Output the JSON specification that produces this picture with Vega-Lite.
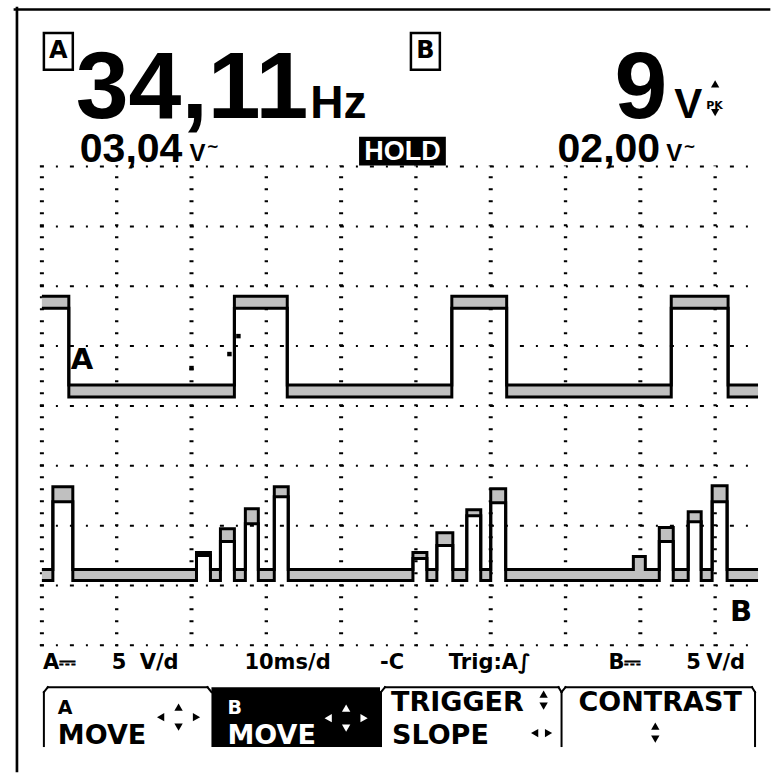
{
  "$schema": "https://vega.github.io/schema/vega-lite/v6.json",
  "width": 771,
  "height": 773,
  "autosize": {"type": "fit", "contains": "padding"},
  "padding": 0,
  "background": "white",
  "config": {"view": {"stroke": null}},
  "datasets": {
    "hgrid": [
      {"v": 0, "t": -0.267, "t2": 95.73}, {"v": 1, "t": -0.267, "t2": 95.73}, {"v": 2, "t": -0.267, "t2": 95.73},
      {"v": 3, "t": -0.267, "t2": 95.73}, {"v": 4, "t": -0.267, "t2": 95.73}, {"v": 5, "t": -0.267, "t2": 95.73},
      {"v": 6, "t": -0.267, "t2": 95.73}, {"v": 7, "t": -0.267, "t2": 95.73}, {"v": 8, "t": -0.267, "t2": 95.73}
    ],
    "vgrid": [
      {"t": 0, "kind": "wide", "v": -0.017, "v2": 8.017}, {"t": 10, "kind": "narrow", "v": -0.017, "v2": 8.017},
      {"t": 20, "kind": "wide", "v": -0.017, "v2": 8.017}, {"t": 30, "kind": "narrow", "v": -0.017, "v2": 8.017},
      {"t": 40, "kind": "wide", "v": -0.017, "v2": 8.017}, {"t": 50, "kind": "narrow", "v": -0.017, "v2": 8.017},
      {"t": 60, "kind": "wide", "v": -0.017, "v2": 8.017}, {"t": 70, "kind": "narrow", "v": -0.017, "v2": 8.017},
      {"t": 80, "kind": "wide", "v": -0.017, "v2": 8.017}, {"t": 90, "kind": "narrow", "v": -0.017, "v2": 8.017}
    ],
    "trA": [
      {"t": 0, "up": 5.833, "lo": 5.633},
      {"t": 3.6, "up": 4.35, "lo": 4.15},
      {"t": 25.733, "up": 5.833, "lo": 5.633},
      {"t": 32.8, "up": 4.35, "lo": 4.15},
      {"t": 54.8, "up": 5.833, "lo": 5.633},
      {"t": 62.133, "up": 4.35, "lo": 4.15},
      {"t": 84.133, "up": 5.833, "lo": 5.633},
      {"t": 91.733, "up": 4.35, "lo": 4.15},
      {"t": 95.733, "up": 4.35, "lo": 4.15}
    ],
    "trB": [
      {"t": 0, "up": 1.267, "lo": 1.083},
      {"t": 1.467, "up": 2.65, "lo": 2.4},
      {"t": 4.133, "up": 1.267, "lo": 1.083},
      {"t": 20.667, "up": 1.55, "lo": 1.5},
      {"t": 22.533, "up": 1.267, "lo": 1.083},
      {"t": 23.867, "up": 1.95, "lo": 1.733},
      {"t": 25.733, "up": 1.267, "lo": 1.083},
      {"t": 27.2, "up": 2.283, "lo": 2.033},
      {"t": 28.933, "up": 1.267, "lo": 1.083},
      {"t": 31.067, "up": 2.65, "lo": 2.483},
      {"t": 32.933, "up": 1.267, "lo": 1.083},
      {"t": 49.6, "up": 1.55, "lo": 1.45},
      {"t": 51.467, "up": 1.267, "lo": 1.083},
      {"t": 52.8, "up": 1.883, "lo": 1.667},
      {"t": 54.933, "up": 1.267, "lo": 1.083},
      {"t": 56.8, "up": 2.267, "lo": 2.167},
      {"t": 58.667, "up": 1.267, "lo": 1.083},
      {"t": 60.0, "up": 2.617, "lo": 2.383},
      {"t": 62.0, "up": 1.267, "lo": 1.083},
      {"t": 79.067, "up": 1.483, "lo": 1.083},
      {"t": 80.667, "up": 1.267, "lo": 1.083},
      {"t": 82.533, "up": 1.967, "lo": 1.733},
      {"t": 84.4, "up": 1.267, "lo": 1.083},
      {"t": 86.4, "up": 2.233, "lo": 2.067},
      {"t": 88.133, "up": 1.267, "lo": 1.083},
      {"t": 89.6, "up": 2.667, "lo": 2.4},
      {"t": 91.6, "up": 1.267, "lo": 1.083},
      {"t": 95.733, "up": 1.267, "lo": 1.083}
    ],
    "dots": [
      {"t": 26.27, "v": 5.167}, {"t": 25.07, "v": 4.867}, {"t": 20.0, "v": 4.633}
    ],
    "lines": [
      {"kind": "frame", "t": -3.6, "t2": 97.2, "v": 10.625, "v2": 10.625},
      {"kind": "frame", "t": -3.333, "t2": -3.333, "v": 10.65, "v2": -2.1},
      {"kind": "tab", "t": 0.267, "t2": 0.267, "v": -0.783, "v2": -1.683},
      {"kind": "tab", "t": 0.267, "t2": 0.8, "v": -0.783, "v2": -0.7},
      {"kind": "tab", "t": 0.8, "t2": 22.133, "v": -0.7, "v2": -0.7},
      {"kind": "tab", "t": 22.133, "t2": 22.667, "v": -0.7, "v2": -0.783},
      {"kind": "tab", "t": 45.333, "t2": 45.333, "v": -0.783, "v2": -1.683},
      {"kind": "tab", "t": 45.333, "t2": 45.867, "v": -0.783, "v2": -0.7},
      {"kind": "tab", "t": 45.867, "t2": 69.067, "v": -0.7, "v2": -0.7},
      {"kind": "tab", "t": 69.067, "t2": 69.467, "v": -0.7, "v2": -0.783},
      {"kind": "tab", "t": 69.467, "t2": 69.467, "v": -0.783, "v2": -1.683},
      {"kind": "tab", "t": 69.467, "t2": 70.0, "v": -0.783, "v2": -0.7},
      {"kind": "tab", "t": 70.0, "t2": 94.933, "v": -0.7, "v2": -0.7},
      {"kind": "tab", "t": 94.933, "t2": 95.333, "v": -0.7, "v2": -0.783},
      {"kind": "tab", "t": 95.333, "t2": 95.333, "v": -0.783, "v2": -1.683}
    ],
    "boxes": [
      {"kind": "solid", "t": 42.4, "t2": 54.0, "v": 8.5, "v2": 8.017},
      {"kind": "solid", "t": 22.667, "t2": 45.2, "v": -0.7, "v2": -1.7},
      {"kind": "outline", "t": 0.267, "t2": 4.133, "v": 10.233, "v2": 9.617},
      {"kind": "outline", "t": 49.333, "t2": 53.2, "v": 10.233, "v2": 9.617}
    ],
    "texts": [
      {"role": "big", "t": 4.53, "v": 8.817, "text": "34,11"},
      {"role": "bigR", "t": 83.6, "v": 8.817, "text": "9"},
      {"role": "unit", "t": 35.87, "v": 8.817, "text": "Hz"},
      {"role": "unitB", "t": 84.53, "v": 8.817, "text": "V"},
      {"role": "mid", "t": 5.067, "v": 8.083, "text": "03,04"},
      {"role": "mid", "t": 68.93, "v": 8.083, "text": "02,00"},
      {"role": "vs", "t": 19.73, "v": 8.1, "text": "V"},
      {"role": "vs", "t": 83.47, "v": 8.1, "text": "V"},
      {"role": "tilde", "t": 22.0, "v": 8.25, "text": "~"},
      {"role": "tilde", "t": 85.73, "v": 8.25, "text": "~"},
      {"role": "pk", "t": 88.8, "v": 8.967, "text": "PK"},
      {"role": "boxl", "t": 2.2, "v": 9.925, "text": "A"},
      {"role": "boxl", "t": 51.27, "v": 9.925, "text": "B"},
      {"role": "hold", "t": 48.2, "v": 8.25, "text": "HOLD"},
      {"role": "trace", "t": 3.87, "v": 4.617, "text": "A"},
      {"role": "trace", "t": 92.0, "v": 0.4, "text": "B"},
      {"role": "foot", "t": 0.133, "v": -0.4, "text": "A⎓"},
      {"role": "foot", "t": 9.33, "v": -0.4, "text": "5"},
      {"role": "foot", "t": 13.07, "v": -0.4, "text": "V/d"},
      {"role": "foot", "t": 27.07, "v": -0.4, "text": "10ms/d"},
      {"role": "foot", "t": 45.2, "v": -0.4, "text": "-C"},
      {"role": "foot", "t": 54.4, "v": -0.4, "text": "Trig:A∫"},
      {"role": "foot", "t": 75.73, "v": -0.4, "text": "B⎓"},
      {"role": "foot", "t": 86.13, "v": -0.4, "text": "5"},
      {"role": "foot", "t": 88.8, "v": -0.4, "text": "V/d"},
      {"role": "tabs", "t": 2.133, "v": -1.15, "text": "A"},
      {"role": "tab", "t": 2.133, "v": -1.65, "text": "MOVE"},
      {"role": "tabsW", "t": 24.8, "v": -1.15, "text": "B"},
      {"role": "tabW", "t": 24.8, "v": -1.65, "text": "MOVE"},
      {"role": "tab", "t": 46.67, "v": -1.1, "text": "TRIGGER"},
      {"role": "tab", "t": 46.8, "v": -1.65, "text": "SLOPE"},
      {"role": "tab", "t": 71.73, "v": -1.1, "text": "CONTRAST"}
    ],
    "icons": [
      {"t": 15.87, "v": -1.2, "dir": "left", "tone": "dark"},
      {"t": 20.67, "v": -1.2, "dir": "right", "tone": "dark"},
      {"t": 18.27, "v": -1.033, "dir": "up", "tone": "dark"},
      {"t": 18.27, "v": -1.367, "dir": "down", "tone": "dark"},
      {"t": 38.27, "v": -1.217, "dir": "left", "tone": "light"},
      {"t": 43.07, "v": -1.217, "dir": "right", "tone": "light"},
      {"t": 40.67, "v": -1.05, "dir": "up", "tone": "light"},
      {"t": 40.67, "v": -1.383, "dir": "down", "tone": "light"},
      {"t": 67.07, "v": -0.817, "dir": "up", "tone": "dark"},
      {"t": 67.07, "v": -1.017, "dir": "down", "tone": "dark"},
      {"t": 65.87, "v": -1.467, "dir": "left", "tone": "dark"},
      {"t": 67.73, "v": -1.467, "dir": "right", "tone": "dark"},
      {"t": 82.0, "v": -1.35, "dir": "up", "tone": "dark"},
      {"t": 82.0, "v": -1.567, "dir": "down", "tone": "dark"},
      {"t": 90.0, "v": 9.383, "dir": "up", "tone": "dark"},
      {"t": 90.0, "v": 8.9, "dir": "down", "tone": "dark"}
    ]
  },
  "layer": [
    {
      "data": {"name": "hgrid"},
      "mark": {"type": "rule", "color": "black", "strokeWidth": 2, "strokeDash": [4, 12, 2, 12]},
      "encoding": {
        "x": {"field": "t", "type": "quantitative", "scale": {"domain": [-5.6, 97.2], "nice": false, "zero": false}, "axis": null},
        "x2": {"field": "t2"},
        "y": {"field": "v", "type": "quantitative", "scale": {"domain": [-2.1, 10.7833], "nice": false, "zero": false}, "axis": null}
      }
    },
    {
      "data": {"name": "vgrid"},
      "mark": {"type": "rule", "color": "black", "strokeDash": [2, 10]},
      "encoding": {
        "x": {"field": "t", "type": "quantitative", "scale": {"domain": [-5.6, 97.2], "nice": false, "zero": false}, "axis": null},
        "y": {"field": "v", "type": "quantitative", "scale": {"domain": [-2.1, 10.7833], "nice": false, "zero": false}, "axis": null},
        "y2": {"field": "v2"},
        "strokeWidth": {"field": "kind", "type": "nominal", "scale": {"domain": ["wide", "narrow"], "range": [4, 2]}, "legend": null}
      }
    },
    {
      "data": {"name": "trA"},
      "mark": {"type": "area", "interpolate": "step-after", "color": "#c0c0c0"},
      "encoding": {
        "x": {"field": "t", "type": "quantitative", "scale": {"domain": [-5.6, 97.2], "nice": false, "zero": false}, "axis": null},
        "y": {"field": "up", "type": "quantitative", "scale": {"domain": [-2.1, 10.7833], "nice": false, "zero": false}, "axis": null},
        "y2": {"field": "lo"}
      }
    },
    {
      "data": {"name": "trA"},
      "mark": {"type": "line", "interpolate": "step-after", "color": "black", "strokeWidth": 3},
      "encoding": {
        "x": {"field": "t", "type": "quantitative", "scale": {"domain": [-5.6, 97.2], "nice": false, "zero": false}, "axis": null},
        "y": {"field": "up", "type": "quantitative", "scale": {"domain": [-2.1, 10.7833], "nice": false, "zero": false}, "axis": null}
      }
    },
    {
      "data": {"name": "trA"},
      "mark": {"type": "line", "interpolate": "step-after", "color": "black", "strokeWidth": 3},
      "encoding": {
        "x": {"field": "t", "type": "quantitative", "scale": {"domain": [-5.6, 97.2], "nice": false, "zero": false}, "axis": null},
        "y": {"field": "lo", "type": "quantitative", "scale": {"domain": [-2.1, 10.7833], "nice": false, "zero": false}, "axis": null}
      }
    },
    {
      "data": {"name": "trB"},
      "mark": {"type": "area", "interpolate": "step-after", "color": "#c0c0c0"},
      "encoding": {
        "x": {"field": "t", "type": "quantitative", "scale": {"domain": [-5.6, 97.2], "nice": false, "zero": false}, "axis": null},
        "y": {"field": "up", "type": "quantitative", "scale": {"domain": [-2.1, 10.7833], "nice": false, "zero": false}, "axis": null},
        "y2": {"field": "lo"}
      }
    },
    {
      "data": {"name": "trB"},
      "mark": {"type": "line", "interpolate": "step-after", "color": "black", "strokeWidth": 3},
      "encoding": {
        "x": {"field": "t", "type": "quantitative", "scale": {"domain": [-5.6, 97.2], "nice": false, "zero": false}, "axis": null},
        "y": {"field": "up", "type": "quantitative", "scale": {"domain": [-2.1, 10.7833], "nice": false, "zero": false}, "axis": null}
      }
    },
    {
      "data": {"name": "trB"},
      "mark": {"type": "line", "interpolate": "step-after", "color": "black", "strokeWidth": 3},
      "encoding": {
        "x": {"field": "t", "type": "quantitative", "scale": {"domain": [-5.6, 97.2], "nice": false, "zero": false}, "axis": null},
        "y": {"field": "lo", "type": "quantitative", "scale": {"domain": [-2.1, 10.7833], "nice": false, "zero": false}, "axis": null}
      }
    },
    {
      "data": {"name": "dots"},
      "mark": {"type": "point", "shape": "square", "filled": true, "color": "black", "size": 20, "opacity": 1},
      "encoding": {
        "x": {"field": "t", "type": "quantitative", "scale": {"domain": [-5.6, 97.2], "nice": false, "zero": false}, "axis": null},
        "y": {"field": "v", "type": "quantitative", "scale": {"domain": [-2.1, 10.7833], "nice": false, "zero": false}, "axis": null}
      }
    },
    {
      "data": {"name": "lines"},
      "mark": {"type": "rule", "color": "black", "strokeCap": "square"},
      "encoding": {
        "x": {"field": "t", "type": "quantitative", "scale": {"domain": [-5.6, 97.2], "nice": false, "zero": false}, "axis": null},
        "x2": {"field": "t2"},
        "y": {"field": "v", "type": "quantitative", "scale": {"domain": [-2.1, 10.7833], "nice": false, "zero": false}, "axis": null},
        "y2": {"field": "v2"},
        "strokeWidth": {"field": "kind", "type": "nominal", "scale": {"domain": ["frame", "tab"], "range": [4, 2.5]}, "legend": null}
      }
    },
    {
      "data": {"name": "boxes"},
      "transform": [{"filter": {"field": "kind", "equal": "solid"}}],
      "mark": {"type": "rect", "color": "black"},
      "encoding": {
        "x": {"field": "t", "type": "quantitative", "scale": {"domain": [-5.6, 97.2], "nice": false, "zero": false}, "axis": null},
        "x2": {"field": "t2"},
        "y": {"field": "v", "type": "quantitative", "scale": {"domain": [-2.1, 10.7833], "nice": false, "zero": false}, "axis": null},
        "y2": {"field": "v2"}
      }
    },
    {
      "data": {"name": "boxes"},
      "transform": [{"filter": {"field": "kind", "equal": "outline"}}],
      "mark": {"type": "rect", "fill": "white", "fillOpacity": 0, "stroke": "black", "strokeWidth": 2.5},
      "encoding": {
        "x": {"field": "t", "type": "quantitative", "scale": {"domain": [-5.6, 97.2], "nice": false, "zero": false}, "axis": null},
        "x2": {"field": "t2"},
        "y": {"field": "v", "type": "quantitative", "scale": {"domain": [-2.1, 10.7833], "nice": false, "zero": false}, "axis": null},
        "y2": {"field": "v2"}
      }
    },
    {
      "data": {"name": "texts"},
      "transform": [{"filter": {"field": "role", "equal": "big"}}],
      "mark": {"type": "text", "align": "left", "baseline": "alphabetic", "font": "Liberation Sans, Arial, sans-serif", "fontWeight": "bold", "fontSize": 95, "color": "black"},
      "encoding": {
        "x": {"field": "t", "type": "quantitative", "scale": {"domain": [-5.6, 97.2], "nice": false, "zero": false}, "axis": null},
        "y": {"field": "v", "type": "quantitative", "scale": {"domain": [-2.1, 10.7833], "nice": false, "zero": false}, "axis": null},
        "text": {"field": "text"}
      }
    },
    {
      "data": {"name": "texts"},
      "transform": [{"filter": {"field": "role", "equal": "bigR"}}],
      "mark": {"type": "text", "align": "right", "baseline": "alphabetic", "font": "Liberation Sans, Arial, sans-serif", "fontWeight": "bold", "fontSize": 95, "color": "black"},
      "encoding": {
        "x": {"field": "t", "type": "quantitative", "scale": {"domain": [-5.6, 97.2], "nice": false, "zero": false}, "axis": null},
        "y": {"field": "v", "type": "quantitative", "scale": {"domain": [-2.1, 10.7833], "nice": false, "zero": false}, "axis": null},
        "text": {"field": "text"}
      }
    },
    {
      "data": {"name": "texts"},
      "transform": [{"filter": {"field": "role", "equal": "unit"}}],
      "mark": {"type": "text", "align": "left", "baseline": "alphabetic", "font": "Liberation Sans, Arial, sans-serif", "fontWeight": "bold", "fontSize": 46, "color": "black"},
      "encoding": {
        "x": {"field": "t", "type": "quantitative", "scale": {"domain": [-5.6, 97.2], "nice": false, "zero": false}, "axis": null},
        "y": {"field": "v", "type": "quantitative", "scale": {"domain": [-2.1, 10.7833], "nice": false, "zero": false}, "axis": null},
        "text": {"field": "text"}
      }
    },
    {
      "data": {"name": "texts"},
      "transform": [{"filter": {"field": "role", "equal": "unitB"}}],
      "mark": {"type": "text", "align": "left", "baseline": "alphabetic", "font": "Liberation Sans, Arial, sans-serif", "fontWeight": "bold", "fontSize": 42, "color": "black"},
      "encoding": {
        "x": {"field": "t", "type": "quantitative", "scale": {"domain": [-5.6, 97.2], "nice": false, "zero": false}, "axis": null},
        "y": {"field": "v", "type": "quantitative", "scale": {"domain": [-2.1, 10.7833], "nice": false, "zero": false}, "axis": null},
        "text": {"field": "text"}
      }
    },
    {
      "data": {"name": "texts"},
      "transform": [{"filter": {"field": "role", "equal": "mid"}}],
      "mark": {"type": "text", "align": "left", "baseline": "alphabetic", "font": "Liberation Sans, Arial, sans-serif", "fontWeight": "bold", "fontSize": 41, "color": "black"},
      "encoding": {
        "x": {"field": "t", "type": "quantitative", "scale": {"domain": [-5.6, 97.2], "nice": false, "zero": false}, "axis": null},
        "y": {"field": "v", "type": "quantitative", "scale": {"domain": [-2.1, 10.7833], "nice": false, "zero": false}, "axis": null},
        "text": {"field": "text"}
      }
    },
    {
      "data": {"name": "texts"},
      "transform": [{"filter": {"field": "role", "equal": "vs"}}],
      "mark": {"type": "text", "align": "left", "baseline": "alphabetic", "font": "Liberation Sans, Arial, sans-serif", "fontWeight": "bold", "fontSize": 24, "color": "black"},
      "encoding": {
        "x": {"field": "t", "type": "quantitative", "scale": {"domain": [-5.6, 97.2], "nice": false, "zero": false}, "axis": null},
        "y": {"field": "v", "type": "quantitative", "scale": {"domain": [-2.1, 10.7833], "nice": false, "zero": false}, "axis": null},
        "text": {"field": "text"}
      }
    },
    {
      "data": {"name": "texts"},
      "transform": [{"filter": {"field": "role", "equal": "tilde"}}],
      "mark": {"type": "text", "align": "left", "baseline": "alphabetic", "font": "DejaVu Sans, sans-serif", "fontWeight": "bold", "fontSize": 15, "color": "black"},
      "encoding": {
        "x": {"field": "t", "type": "quantitative", "scale": {"domain": [-5.6, 97.2], "nice": false, "zero": false}, "axis": null},
        "y": {"field": "v", "type": "quantitative", "scale": {"domain": [-2.1, 10.7833], "nice": false, "zero": false}, "axis": null},
        "text": {"field": "text"}
      }
    },
    {
      "data": {"name": "texts"},
      "transform": [{"filter": {"field": "role", "equal": "pk"}}],
      "mark": {"type": "text", "align": "left", "baseline": "alphabetic", "font": "DejaVu Sans, sans-serif", "fontWeight": "bold", "fontSize": 11, "color": "black"},
      "encoding": {
        "x": {"field": "t", "type": "quantitative", "scale": {"domain": [-5.6, 97.2], "nice": false, "zero": false}, "axis": null},
        "y": {"field": "v", "type": "quantitative", "scale": {"domain": [-2.1, 10.7833], "nice": false, "zero": false}, "axis": null},
        "text": {"field": "text"}
      }
    },
    {
      "data": {"name": "texts"},
      "transform": [{"filter": {"field": "role", "equal": "boxl"}}],
      "mark": {"type": "text", "align": "center", "baseline": "middle", "font": "DejaVu Sans, sans-serif", "fontWeight": "bold", "fontSize": 24, "color": "black"},
      "encoding": {
        "x": {"field": "t", "type": "quantitative", "scale": {"domain": [-5.6, 97.2], "nice": false, "zero": false}, "axis": null},
        "y": {"field": "v", "type": "quantitative", "scale": {"domain": [-2.1, 10.7833], "nice": false, "zero": false}, "axis": null},
        "text": {"field": "text"}
      }
    },
    {
      "data": {"name": "texts"},
      "transform": [{"filter": {"field": "role", "equal": "hold"}}],
      "mark": {"type": "text", "align": "center", "baseline": "middle", "font": "Liberation Sans, Arial, sans-serif", "fontWeight": "bold", "fontSize": 27, "color": "white"},
      "encoding": {
        "x": {"field": "t", "type": "quantitative", "scale": {"domain": [-5.6, 97.2], "nice": false, "zero": false}, "axis": null},
        "y": {"field": "v", "type": "quantitative", "scale": {"domain": [-2.1, 10.7833], "nice": false, "zero": false}, "axis": null},
        "text": {"field": "text"}
      }
    },
    {
      "data": {"name": "texts"},
      "transform": [{"filter": {"field": "role", "equal": "trace"}}],
      "mark": {"type": "text", "align": "left", "baseline": "alphabetic", "font": "DejaVu Sans, sans-serif", "fontWeight": "bold", "fontSize": 29, "color": "black"},
      "encoding": {
        "x": {"field": "t", "type": "quantitative", "scale": {"domain": [-5.6, 97.2], "nice": false, "zero": false}, "axis": null},
        "y": {"field": "v", "type": "quantitative", "scale": {"domain": [-2.1, 10.7833], "nice": false, "zero": false}, "axis": null},
        "text": {"field": "text"}
      }
    },
    {
      "data": {"name": "texts"},
      "transform": [{"filter": {"field": "role", "equal": "foot"}}],
      "mark": {"type": "text", "align": "left", "baseline": "alphabetic", "font": "DejaVu Sans, sans-serif", "fontWeight": "bold", "fontSize": 21, "color": "black"},
      "encoding": {
        "x": {"field": "t", "type": "quantitative", "scale": {"domain": [-5.6, 97.2], "nice": false, "zero": false}, "axis": null},
        "y": {"field": "v", "type": "quantitative", "scale": {"domain": [-2.1, 10.7833], "nice": false, "zero": false}, "axis": null},
        "text": {"field": "text"}
      }
    },
    {
      "data": {"name": "texts"},
      "transform": [{"filter": {"field": "role", "equal": "tabs"}}],
      "mark": {"type": "text", "align": "left", "baseline": "alphabetic", "font": "DejaVu Sans, sans-serif", "fontWeight": "bold", "fontSize": 19, "color": "black"},
      "encoding": {
        "x": {"field": "t", "type": "quantitative", "scale": {"domain": [-5.6, 97.2], "nice": false, "zero": false}, "axis": null},
        "y": {"field": "v", "type": "quantitative", "scale": {"domain": [-2.1, 10.7833], "nice": false, "zero": false}, "axis": null},
        "text": {"field": "text"}
      }
    },
    {
      "data": {"name": "texts"},
      "transform": [{"filter": {"field": "role", "equal": "tabsW"}}],
      "mark": {"type": "text", "align": "left", "baseline": "alphabetic", "font": "DejaVu Sans, sans-serif", "fontWeight": "bold", "fontSize": 19, "color": "white"},
      "encoding": {
        "x": {"field": "t", "type": "quantitative", "scale": {"domain": [-5.6, 97.2], "nice": false, "zero": false}, "axis": null},
        "y": {"field": "v", "type": "quantitative", "scale": {"domain": [-2.1, 10.7833], "nice": false, "zero": false}, "axis": null},
        "text": {"field": "text"}
      }
    },
    {
      "data": {"name": "texts"},
      "transform": [{"filter": {"field": "role", "equal": "tab"}}],
      "mark": {"type": "text", "align": "left", "baseline": "alphabetic", "font": "DejaVu Sans, sans-serif", "fontWeight": "bold", "fontSize": 27, "color": "black"},
      "encoding": {
        "x": {"field": "t", "type": "quantitative", "scale": {"domain": [-5.6, 97.2], "nice": false, "zero": false}, "axis": null},
        "y": {"field": "v", "type": "quantitative", "scale": {"domain": [-2.1, 10.7833], "nice": false, "zero": false}, "axis": null},
        "text": {"field": "text"}
      }
    },
    {
      "data": {"name": "texts"},
      "transform": [{"filter": {"field": "role", "equal": "tabW"}}],
      "mark": {"type": "text", "align": "left", "baseline": "alphabetic", "font": "DejaVu Sans, sans-serif", "fontWeight": "bold", "fontSize": 27, "color": "white"},
      "encoding": {
        "x": {"field": "t", "type": "quantitative", "scale": {"domain": [-5.6, 97.2], "nice": false, "zero": false}, "axis": null},
        "y": {"field": "v", "type": "quantitative", "scale": {"domain": [-2.1, 10.7833], "nice": false, "zero": false}, "axis": null},
        "text": {"field": "text"}
      }
    },
    {
      "data": {"name": "icons"},
      "mark": {"type": "point", "filled": true, "size": 70, "opacity": 1},
      "encoding": {
        "x": {"field": "t", "type": "quantitative", "scale": {"domain": [-5.6, 97.2], "nice": false, "zero": false}, "axis": null},
        "y": {"field": "v", "type": "quantitative", "scale": {"domain": [-2.1, 10.7833], "nice": false, "zero": false}, "axis": null},
        "shape": {"field": "dir", "type": "nominal", "scale": {"domain": ["left", "right", "up", "down"], "range": ["triangle-left", "triangle-right", "triangle-up", "triangle-down"]}, "legend": null},
        "color": {"field": "tone", "type": "nominal", "scale": {"domain": ["dark", "light"], "range": ["black", "white"]}, "legend": null}
      }
    }
  ]
}
